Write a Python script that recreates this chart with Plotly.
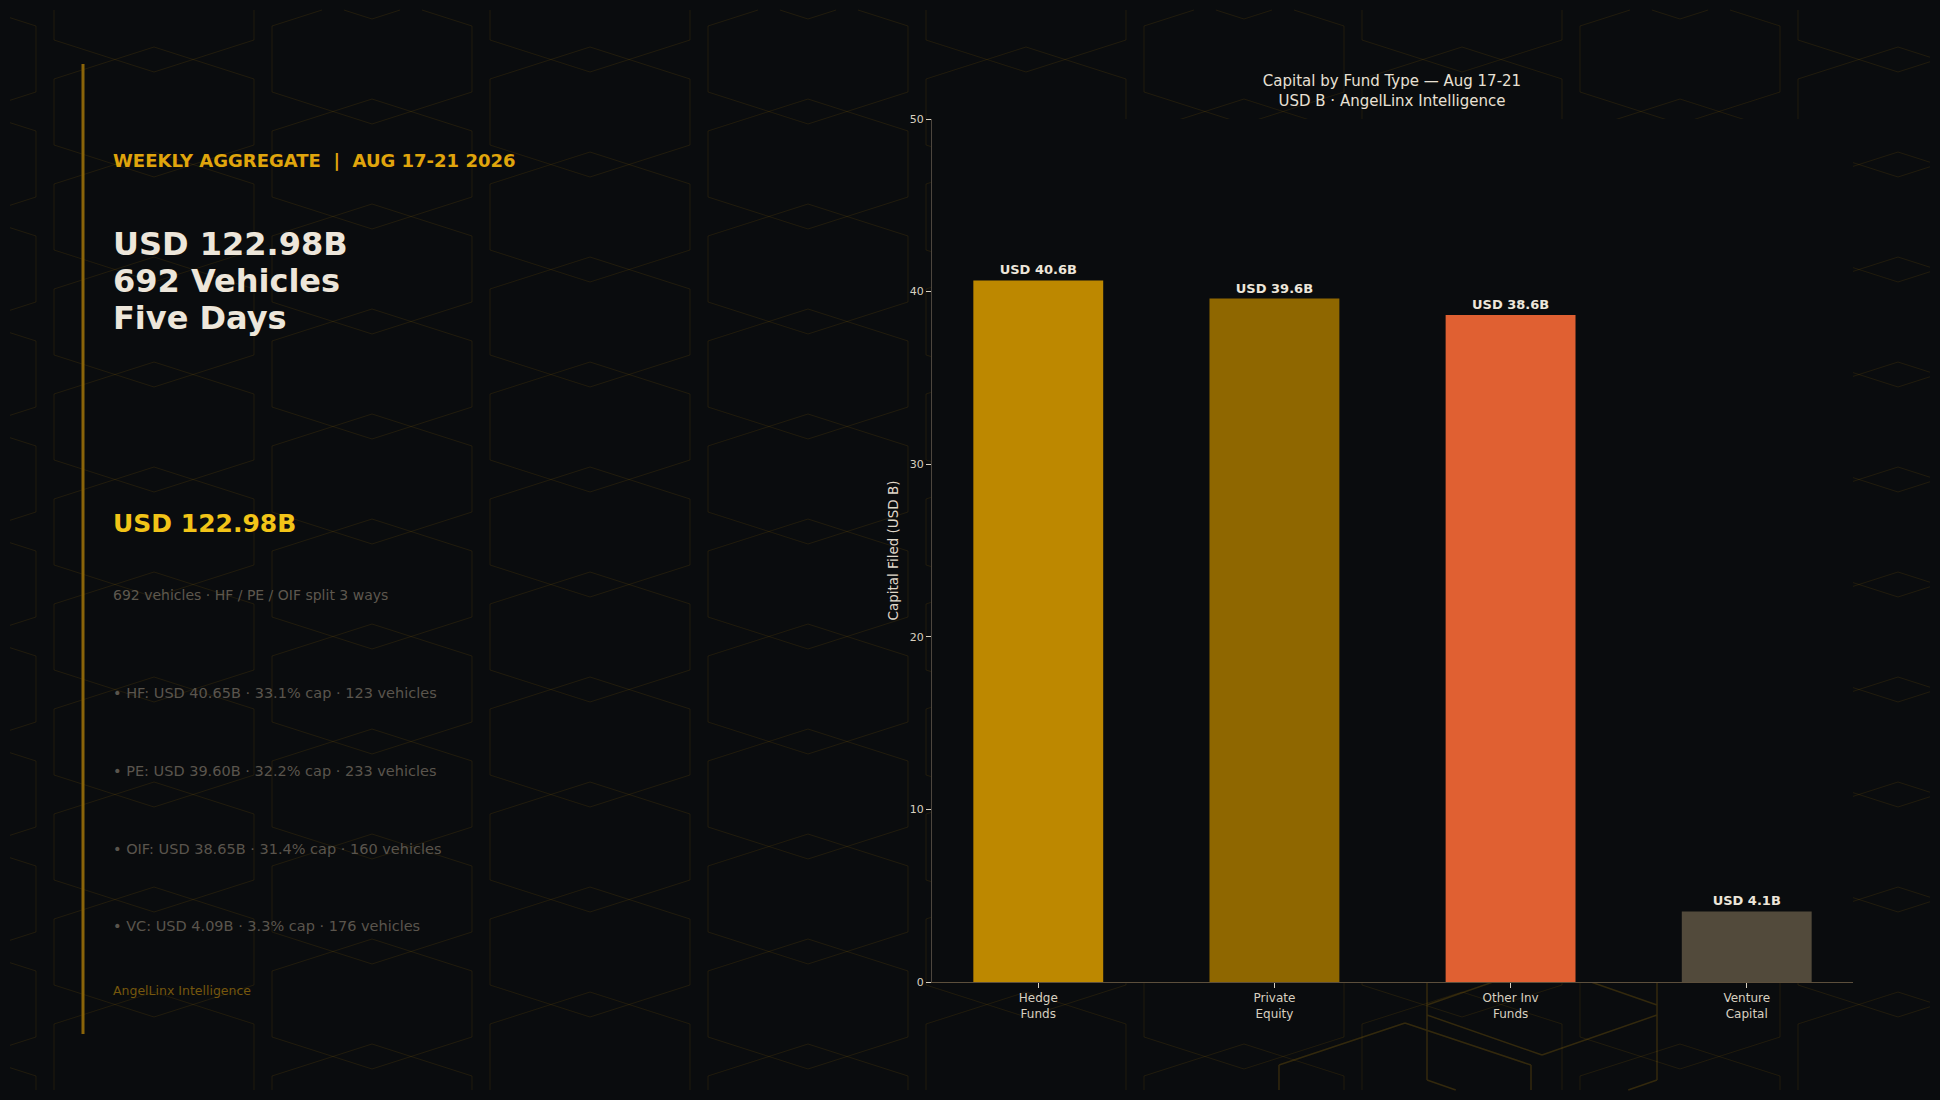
import plotly.graph_objects as go

# ---------------- data ----------------
categories = ["Hedge<br>Funds", "Private<br>Equity", "Other Inv<br>Funds", "Venture<br>Capital"]
capital_b = [40.65, 39.60, 38.65, 4.09]
share_pct = [33.1, 32.2, 31.4, 3.3]
vehicles = [123, 233, 160, 176]
short_codes = ["HF", "PE", "OIF", "VC"]
y_ticks = [0, 10, 20, 30, 40, 50]
total_b = 122.98
total_vehicles = 692

bar_colors = ["#BD8800", "#8F6700", "#E06032", "#524A3B"]

W, H = 1940, 1100
ML, MR, MT, MB = 932, 87, 119, 118
PW, PH = W - ML - MR, H - MT - MB
BG = "#0a0c0e"
FONT = "DejaVu Sans"


def px(x):
    # page pixel -> paper fraction (relative to plot area)
    return (x - ML) / PW


def py(y):
    return (H - MB - y) / PH


# ---------------- hex background (decoration) ----------------
def clip(x0, y0, x1, y1, xmin, ymin, xmax, ymax):
    dx, dy = x1 - x0, y1 - y0
    t0, t1 = 0.0, 1.0
    for p, q in ((-dx, x0 - xmin), (dx, xmax - x0), (-dy, y0 - ymin), (dy, ymax - y0)):
        if p == 0:
            if q < 0:
                return None
        else:
            r = q / p
            if p < 0:
                if r > t1:
                    return None
                t0 = max(t0, r)
            else:
                if r < t0:
                    return None
                t1 = min(t1, r)
    return (x0 + t0 * dx, y0 + t0 * dy, x0 + t1 * dx, y0 + t1 * dy)


def hex_path(hexes, box=(10, 10, 1930, 1090)):
    parts = []
    for cx, top, hw, slope, side in hexes:
        pts = [(cx, top), (cx + hw, top + slope), (cx + hw, top + slope + side),
               (cx, top + 2 * slope + side), (cx - hw, top + slope + side), (cx - hw, top + slope)]
        for i in range(6):
            a, b = pts[i], pts[(i + 1) % 6]
            c = clip(a[0], a[1], b[0], b[1], *box)
            if c:
                parts.append(f"M{px(c[0]):.5f},{py(c[1]):.5f} L{px(c[2]):.5f},{py(c[3]):.5f}")
    return " ".join(parts)


grid = []
for k in range(-1, 11):
    cx = 154 + 218 * k
    base = 362 if k % 2 == 0 else 309
    for j in range(-5, 9):
        grid.append((cx, base + 105 * j, 100, 32, 66))

bright = [(1405, 1023, 126, 42, 70), (1542, 965, 115, 40, 75), (1542, 935, 115, 40, 40)]

shapes = [
    dict(type="path", xref="paper", yref="paper", path=hex_path(grid), layer="below",
         line=dict(color="rgba(184,134,11,0.13)", width=1), fillcolor="rgba(0,0,0,0)"),
    dict(type="path", xref="paper", yref="paper", path=hex_path(bright), layer="below",
         line=dict(color="rgba(184,134,11,0.24)", width=1.5), fillcolor="rgba(0,0,0,0)"),
    # opaque plot panel hides the pattern behind the bars
    dict(type="rect", xref="paper", yref="paper", x0=0, x1=1, y0=0, y1=1, layer="below",
         fillcolor=BG, line=dict(width=0)),
    dict(type="line", xref="paper", yref="paper", x0=px(83), x1=px(83), y0=py(64), y1=py(1034),
         line=dict(color="#8A6409", width=3), layer="above"),
]

# ---------------- left panel text ----------------
annotations = []
TX = 111


def add_text(text, x, y, size, color, bold=False):
    annotations.append(dict(text=text, x=px(x), y=py(y), xref="paper", yref="paper",
                            xanchor="left", yanchor="middle", showarrow=False, align="left",
                            font=dict(family=FONT, size=size, color=color,
                                      weight="bold" if bold else "normal")))


add_text("WEEKLY AGGREGATE \u00a0|\u00a0 AUG 17-21 2026", TX, 160, 18, "#E0A50C", True)
add_text(f"USD {total_b:.2f}B", TX, 244, 32, "#EDE6DA", True)
add_text(f"{total_vehicles} Vehicles", TX, 281, 32, "#EDE6DA", True)
add_text("Five Days", TX, 318, 32, "#EDE6DA", True)
add_text(f"USD {total_b:.2f}B", TX, 523, 25, "#F2C418", True)
add_text(f"{total_vehicles} vehicles · HF / PE / OIF split 3 ways", TX, 595, 14, "#5E584E")
bullet_y = [693, 771, 849, 926]
for code, v, pct, n, yy in zip(short_codes, capital_b, share_pct, vehicles, bullet_y):
    add_text(f"• {code}: USD {v:.2f}B · {pct:.1f}% cap · {n} vehicles", TX, yy, 14.5, "#5A554D")
add_text("AngelLinx Intelligence", TX, 990, 12.5, "#76570D")

# ---------------- chart ----------------
labels = [f"USD {v:.1f}B" for v in capital_b]

fig = go.Figure(go.Bar(
    x=categories, y=capital_b, marker=dict(color=bar_colors, line=dict(width=0)),
    width=0.55, text=labels, textposition="outside", cliponaxis=False,
    textfont=dict(family=FONT, size=13, color="#EDE6DA", weight="bold"),
    hoverinfo="skip",
))

fig.update_layout(
    width=W, height=H,
    paper_bgcolor=BG, plot_bgcolor=BG,
    margin=dict(l=ML, r=MR, t=MT, b=MB),
    font=dict(family=FONT, color="#E0D8CA"),
    showlegend=False,
    title=dict(text="Capital by Fund Type — Aug 17-21<br>USD B · AngelLinx Intelligence",
               x=px(1392), xanchor="center", xref="paper", yref="container",
               y=1 - 86 / H, yanchor="middle",
               font=dict(family=FONT, size=15, color="#E8E0D4")),
    xaxis=dict(type="category", range=[-0.45, 3.45], showgrid=False, zeroline=False,
               showline=True, linecolor="#5C4F3C", linewidth=1,
               ticks="outside", ticklen=5, tickcolor="#D8D0C0",
               tickfont=dict(family=FONT, size=12, color="#D8D0C0")),
    yaxis=dict(range=[0, 50], tickvals=y_ticks, showgrid=False, zeroline=False,
               showline=True, linecolor="#4D463E", linewidth=1,
               ticks="outside", ticklen=5, tickcolor="#D8D0C0",
               tickfont=dict(family=FONT, size=11, color="#D8D0C0"),
               title=dict(text="Capital Filed (USD B)", standoff=8,
                          font=dict(family=FONT, size=13.5, color="#E0D8CA"))),
    shapes=shapes,
    annotations=annotations,
)

fig.write_html("out.html", config={"displayModeBar": False},
               post_script="document.body.style.margin='0';document.body.style.overflow='hidden';"
                           "document.body.style.background='" + BG + "';")
